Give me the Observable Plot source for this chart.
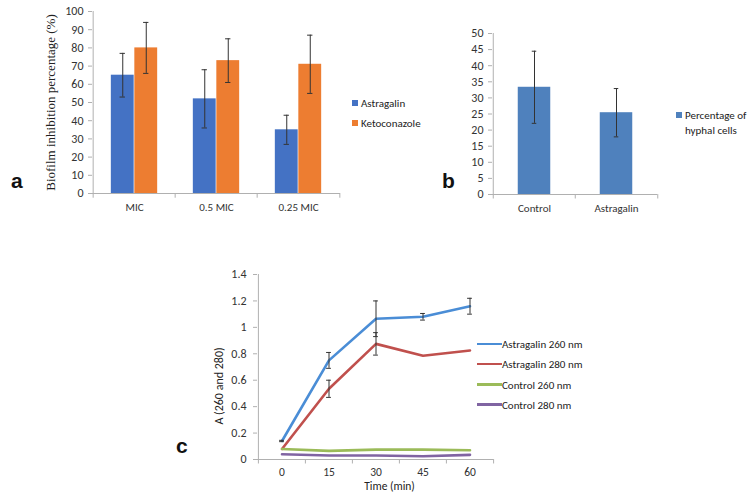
<!DOCTYPE html>
<html>
<head>
<meta charset="utf-8">
<script src="https://cdn.jsdelivr.net/npm/d3@7"></script>
<script src="https://cdn.jsdelivr.net/npm/@observablehq/plot@0.6"></script>
<style>
  body { margin: 0; background: #fff; }
  #root { position: relative; width: 755px; height: 499px; overflow: hidden; font-family: Carlito, Lato, sans-serif; color: #333; }
  #root svg { position: absolute; left: 0; top: 0; }
  .lbl { position: absolute; font-family: "Liberation Sans", Arial, sans-serif; font-weight: bold; font-size: 21px; color: #111; line-height: 1; }
  .leg { position: absolute; font-size: 11px; line-height: 1; white-space: nowrap; color: #222; }
  .sw { display: inline-block; width: 6px; height: 6px; margin-right: 3px; vertical-align: 1px; }
  .ln { display: inline-block; width: 25px; height: 2.5px; vertical-align: 3px; }
</style>
</head>
<body>
<div id="root"></div>
<script>
// ---------- Panel a: biofilm inhibition ----------
const conc = ["MIC", "0.5 MIC", "0.25 MIC"];
const astragalinInhib = [65, 52, 35];
const astragalinErr = [12, 16, 8];
const ketoInhib = [80, 73, 71];
const ketoErr = [14, 12, 16];
const seriesA = ["Astragalin", "Ketoconazole"];
const yTicksA = [0, 10, 20, 30, 40, 50, 60, 70, 80, 90, 100];

// ---------- Panel b: hyphal cells ----------
const hyphalGroups = ["Control", "Astragalin"];
const hyphalPct = [33.3, 25.4];
const hyphalErr = [11.2, 7.5];
const yTicksB = [0, 5, 10, 15, 20, 25, 30, 35, 40, 45, 50];

// ---------- Panel c: absorbance ----------
const times = [0, 15, 30, 45, 60];
const seriesC = ["Astragalin 260 nm", "Astragalin 280 nm", "Control 260 nm", "Control 280 nm"];
const astr260 = [0.14, 0.75, 1.065, 1.08, 1.16];
const astr260Err = [0.005, 0.06, 0.135, 0.025, 0.06];
const astr280 = [0.08, 0.535, 0.875, 0.785, 0.825];
const astr280Err = [0, 0.065, 0.085, 0, 0];
const ctrl260 = [0.08, 0.065, 0.075, 0.075, 0.07];
const ctrl280 = [0.04, 0.03, 0.03, 0.025, 0.035];
const yTicksC = [0, 0.2, 0.4, 0.6, 0.8, 1, 1.2, 1.4];

const W = 755, H = 499;
const root = document.getElementById("root");
const baseStyle = {fontFamily: "Carlito, Lato, sans-serif", fontSize: "11px", color: "#333", background: "transparent", overflow: "visible"};
const axisGray = "#b0b0b0";
const errColor = "#333";

// ===== Panel a =====
const aL = 92, aR = 340, aT = 11, aB = 193;
const bwA = (aR - aL) / conc.length;
const barWA = 23.5;
const dataA = [
  ...conc.map((c, i) => ({conc: c, series: seriesA[0], value: astragalinInhib[i], err: astragalinErr[i]})),
  ...conc.map((c, i) => ({conc: c, series: seriesA[1], value: ketoInhib[i], err: ketoErr[i]}))
];
const colorA = {Astragalin: "#4472C4", Ketoconazole: "#ED7D31"};
const marksA = [];
seriesA.forEach((s, k) => {
  const d = dataA.filter(r => r.series === s);
  const off = k === 0 ? -barWA / 2 : barWA / 2;
  marksA.push(Plot.barY(d, {x: "conc", y: "value", fill: colorA[s],
    insetLeft: k === 0 ? bwA / 2 - barWA : bwA / 2, insetRight: k === 0 ? bwA / 2 : bwA / 2 - barWA}));
  marksA.push(Plot.ruleX(d, {x: "conc", y1: r => r.value - r.err, y2: r => r.value + r.err, dx: off, stroke: errColor, strokeWidth: 1}));
  marksA.push(Plot.tickY(d, {x: "conc", y: r => r.value + r.err, dx: off, insetLeft: bwA / 2 - 3, insetRight: bwA / 2 - 3, stroke: errColor}));
  marksA.push(Plot.tickY(d, {x: "conc", y: r => r.value - r.err, dx: off, insetLeft: bwA / 2 - 3, insetRight: bwA / 2 - 3, stroke: errColor}));
});
const plotA = Plot.plot({
  width: W, height: H,
  marginLeft: aL, marginRight: W - aR, marginTop: aT, marginBottom: H - aB,
  style: baseStyle,
  x: {domain: conc, padding: 0, axis: null},
  y: {domain: [0, 100], axis: null},
  marks: [
    ...marksA,
    Plot.ruleY([0], {stroke: axisGray}),
    Plot.ruleX([conc[0]], {x: d => d, y1: 0, y2: 100, dx: -bwA / 2, stroke: axisGray}),
    Plot.ruleX(conc, {x: d => d, y1: 0, y2: -2.6, dx: -bwA / 2, stroke: axisGray}),
    Plot.ruleX([conc[conc.length - 1]], {x: d => d, y1: 0, y2: -2.6, dx: bwA / 2, stroke: axisGray}),
    Plot.axisY({ticks: yTicksA, tickSize: 4, tickPadding: 5, stroke: axisGray, label: null, fontSize: 12}),
    Plot.axisX({tickSize: 0, tickPadding: 10, label: null}),
    Plot.text(["Biofilm inhibition percentage (%)"], {frameAnchor: "left", textAnchor: "middle", dx: -42, rotate: -90,
      fontFamily: "Liberation Serif, serif", fontSize: 13, fill: "#222"})
  ]
});
root.appendChild(plotA);

// ===== Panel b =====
const bL = 492, bR = 657, bT = 33, bB = 194;
const bwB = (bR - bL) / hyphalGroups.length;
const barWB = 33;
const dataB = hyphalGroups.map((g, i) => ({group: g, value: hyphalPct[i], err: hyphalErr[i]}));
const plotB = Plot.plot({
  width: W, height: H,
  marginLeft: bL, marginRight: W - bR, marginTop: bT, marginBottom: H - bB,
  style: baseStyle,
  x: {domain: hyphalGroups, padding: 0, axis: null},
  y: {domain: [0, 50], axis: null},
  marks: [
    Plot.barY(dataB, {x: "group", y: "value", fill: "#4F81BD", insetLeft: (bwB - barWB) / 2, insetRight: (bwB - barWB) / 2}),
    Plot.ruleX(dataB, {x: "group", y1: r => r.value - r.err, y2: r => r.value + r.err, stroke: errColor}),
    Plot.tickY(dataB, {x: "group", y: r => r.value + r.err, insetLeft: bwB / 2 - 2.5, insetRight: bwB / 2 - 2.5, stroke: errColor}),
    Plot.tickY(dataB, {x: "group", y: r => r.value - r.err, insetLeft: bwB / 2 - 2.5, insetRight: bwB / 2 - 2.5, stroke: errColor}),
    Plot.ruleY([0], {stroke: axisGray}),
    Plot.ruleX([hyphalGroups[0]], {x: d => d, y1: 0, y2: 50, dx: -bwB / 2, stroke: axisGray}),
    Plot.ruleX(hyphalGroups, {x: d => d, y1: 0, y2: -1.4, dx: -bwB / 2, stroke: axisGray}),
    Plot.ruleX([hyphalGroups[hyphalGroups.length - 1]], {x: d => d, y1: 0, y2: -1.4, dx: bwB / 2, stroke: axisGray}),
    Plot.axisY({ticks: yTicksB, tickSize: 4, tickPadding: 5, stroke: axisGray, label: null, fontSize: 12}),
    Plot.axisX({tickSize: 0, tickPadding: 10, label: null})
  ]
});
root.appendChild(plotB);

// ===== Panel c =====
const cL = 257, cR = 493, cT = 274, cB = 459;
const stepC = (cR - cL) / times.length;
const colorC = ["#4A8DD6", "#C0504D", "#9BBB59", "#8064A2"];
const valsC = [astr260, astr280, ctrl260, ctrl280];
const errsC = [astr260Err, astr280Err, null, null];
const dataC = seriesC.flatMap((s, k) => times.map((t, i) => ({series: s, t, v: valsC[k][i], e: errsC[k] ? errsC[k][i] : 0})));
const errC = dataC.filter(d => d.e > 0);
const fmtC = d3.format("~g");
const plotC = Plot.plot({
  width: W, height: H,
  marginLeft: cL, marginRight: W - cR, marginTop: cT, marginBottom: H - cB,
  style: baseStyle,
  x: {type: "band", domain: times, padding: 0, axis: null},
  y: {domain: [0, 1.4], axis: null},
  color: {domain: seriesC, range: colorC},
  marks: [
    Plot.ruleY([0], {stroke: axisGray}),
    Plot.ruleX([times[0]], {x: d => d, y1: 0, y2: 1.4, dx: -stepC / 2, stroke: axisGray}),
    Plot.ruleX(times, {x: d => d, y1: 0, y2: -0.034, dx: -stepC / 2, stroke: axisGray}),
    Plot.ruleX([times[times.length - 1]], {x: d => d, y1: 0, y2: -0.034, dx: stepC / 2, stroke: axisGray}),
    Plot.axisY({ticks: yTicksC, tickFormat: fmtC, tickSize: 4, tickPadding: 7, stroke: axisGray, label: null, fontSize: 12}),
    Plot.axisX({ticks: times, tickSize: 0, tickPadding: 8, label: null, fontSize: 11.5}),
    Plot.line(dataC, {x: "t", y: "v", stroke: "series", strokeWidth: 2.6, z: "series"}),
    Plot.ruleX(errC, {x: "t", y1: d => d.v - d.e, y2: d => d.v + d.e, stroke: errColor}),
    Plot.tickY(errC, {x: "t", y: d => d.v + d.e, insetLeft: stepC / 2 - 2.5, insetRight: stepC / 2 - 2.5, stroke: errColor}),
    Plot.tickY(errC, {x: "t", y: d => d.v - d.e, insetLeft: stepC / 2 - 2.5, insetRight: stepC / 2 - 2.5, stroke: errColor}),
    Plot.text(["Time (min)"], {frameAnchor: "bottom", dx: 14, dy: 30, fontSize: 11.5, fill: "#222"}),
    Plot.text(["A (260 and 280)"], {frameAnchor: "left", textAnchor: "middle", dx: -38, dy: 19, rotate: -90, fontSize: 12, fill: "#222"})
  ]
});
root.appendChild(plotC);

// ===== Legends and panel letters (HTML text) =====
function addDiv(cls, x, y, html) {
  const el = document.createElement("div");
  el.className = cls;
  el.style.left = x + "px";
  el.style.top = y + "px";
  el.innerHTML = html;
  root.appendChild(el);
  return el;
}
seriesA.forEach((s, k) => {
  addDiv("leg", 352, 98 + k * 19.5, `<span class="sw" style="background:${colorA[s]}"></span>${s}`);
});
addDiv("leg", 676, 108, `<span class="sw" style="background:#4F81BD"></span>Percentage of<br><span style="display:inline-block;width:9px"></span>hyphal cells`)
  .style.lineHeight = "15px";
seriesC.forEach((s, k) => {
  addDiv("leg", 477, 339 + k * 20.3, `<span class="ln" style="background:${colorC[k]}"></span>${s}`);
});
addDiv("lbl", 11, 170, "a");
addDiv("lbl", 442, 170, "b");
addDiv("lbl", 176, 435, "c");
</script>
</body>
</html>
